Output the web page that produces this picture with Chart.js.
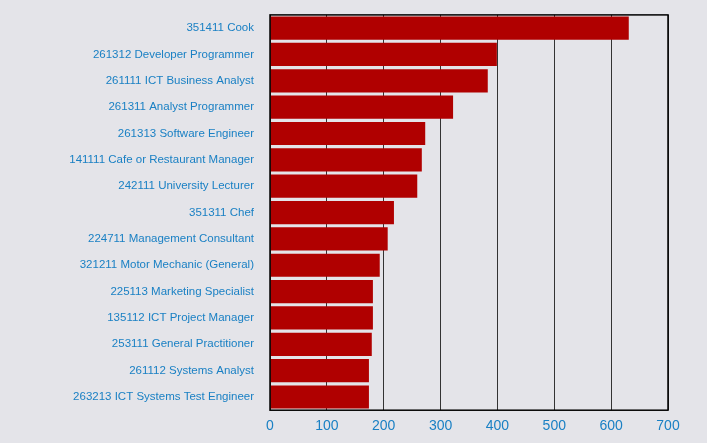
<!DOCTYPE html><html><head><script src="https://cdn.jsdelivr.net/npm/chart.js"></script>
<style>body{margin:0;background:#e4e4e9}#w{width:707px;height:443px}</style></head><body><div id="w"><canvas id="c"></canvas></div>
<script>
const categories=["351411 Cook","261312 Developer Programmer","261111 ICT Business Analyst","261311 Analyst Programmer","261313 Software Engineer","141111 Cafe or Restaurant Manager","242111 University Lecturer","351311 Chef","224711 Management Consultant","321211 Motor Mechanic (General)","225113 Marketing Specialist","135112 ICT Project Manager","253111 General Practitioner","261112 Systems Analyst","263213 ICT Systems Test Engineer"];
const values=[631,399,383,322,273,267,259,218,207,193,181,181,179,174,174];
const xTicks=[0,100,200,300,400,500,600,700];
const border={id:'b',afterDraw(ch){const a=ch.chartArea,x=ch.ctx;x.save();x.strokeStyle='#000';x.lineWidth=1.5;x.strokeRect(a.left,a.top,a.right-a.left,a.bottom-a.top);x.restore();}};
new Chart(document.getElementById('c'),{type:'bar',data:{labels:categories,datasets:[{data:values,backgroundColor:'#b00000',categoryPercentage:0.88,barPercentage:1}]},
options:{indexAxis:'y',responsive:true,maintainAspectRatio:false,animation:false,layout:{padding:{top:13,right:39,bottom:0,left:0}},
plugins:{legend:{display:false},tooltip:{enabled:false}},
scales:{x:{min:0,max:700,afterBuildTicks(s){s.ticks=xTicks.map(v=>({value:v}))},grid:{color:'#333',drawTicks:false},border:{display:false},ticks:{color:'#1a80c4',font:{family:'Liberation Sans',size:14},padding:8}},
y:{afterFit(s){s.width=270},grid:{display:false},border:{display:false},ticks:{color:'#1a80c4',font:{family:'Liberation Sans',size:11.5},padding:8}}}},plugins:[border]});
</script></body></html>
